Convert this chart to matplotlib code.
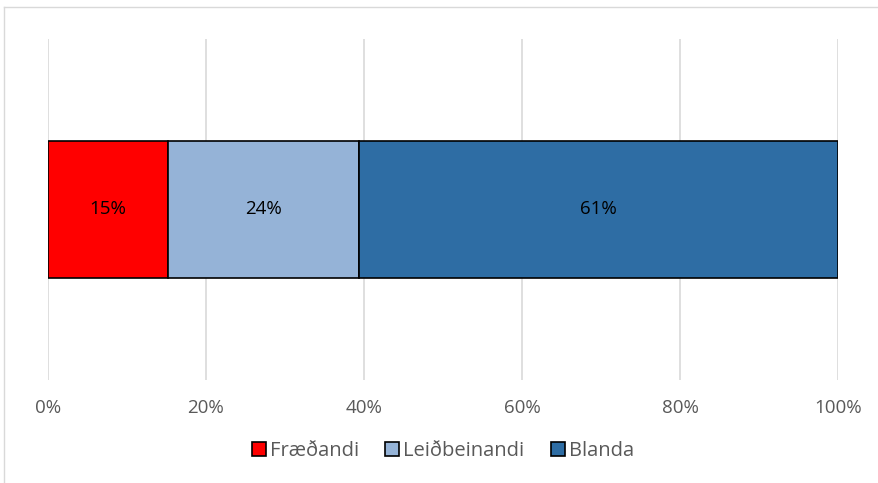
import matplotlib.pyplot as plt
from matplotlib.lines import Line2D

categories = ["Fræðandi", "Leiðbeinandi", "Blanda"]
values = [15.2, 24.2, 60.6]
labels = ["15%", "24%", "61%"]
colors = ["#FF0000", "#95B3D7", "#2E6DA4"]
ticks = [0, 20, 40, 60, 80, 100]

plt.rcParams['font.family'] = ['Open Sans', 'DejaVu Sans']

fig = plt.figure(figsize=(8.79, 4.83), dpi=100)
ax = fig.add_axes([48 / 879, 1 - 380 / 483, 790 / 879, 341 / 483])

left = 0
for cat, v, lab, c in zip(categories, values, labels, colors):
    ax.barh(0, v, left=left, height=0.4, color=c, edgecolor="black", linewidth=1.2, label=cat, zorder=3)
    ax.text(left + v / 2, 0, lab, ha="center", va="center", fontsize=13.5, color="black", zorder=4)
    left += v

ax.set_xlim(0, 100)
ax.set_ylim(-0.5, 0.5)
ax.set_xticks(ticks)
ax.set_xticklabels([f"{t}%" for t in ticks], fontsize=13.5, color="#595959")
ax.set_yticks([])
ax.tick_params(axis="x", length=0, pad=14)
ax.grid(axis="x", color="#D9D9D9", linewidth=1.2, zorder=0)
for s in ax.spines.values():
    s.set_visible(False)

ax.legend(loc="upper center", bbox_to_anchor=(0.5, -0.125), ncol=3, frameon=False,
          fontsize=14.5, labelcolor="#595959", handlelength=0.7, handleheight=0.7,
          handletextpad=0.2, columnspacing=1.3)

# chart border (left and top visible)
fig.add_artist(Line2D([4 / 879, 4 / 879], [0, 1 - 7 / 483], color="#D9D9D9", linewidth=1))
fig.add_artist(Line2D([4 / 879, 1], [1 - 7 / 483, 1 - 7 / 483], color="#D9D9D9", linewidth=1))

fig.savefig("out.png", dpi=100)
